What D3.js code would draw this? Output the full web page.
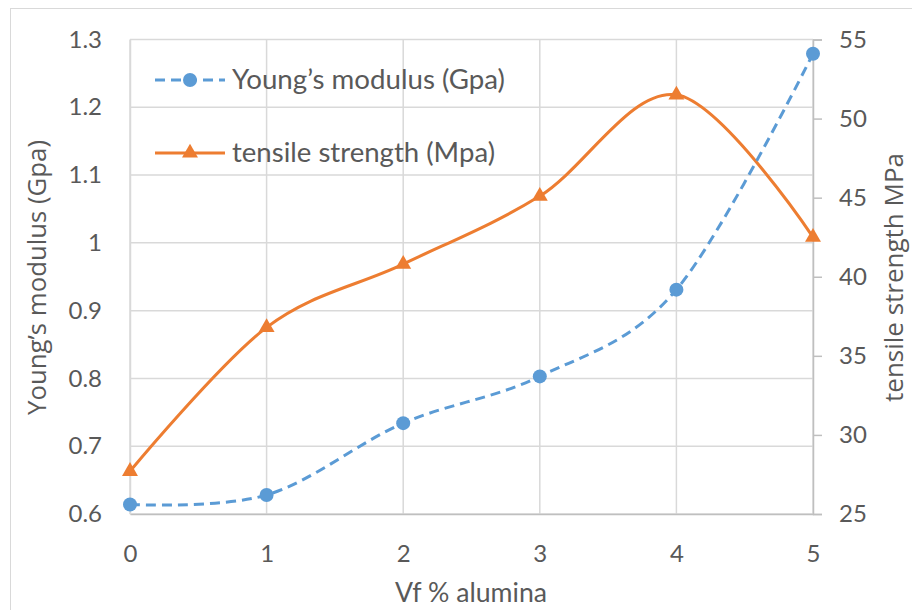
<!DOCTYPE html>
<html><head><meta charset="utf-8">
<script src="https://cdn.jsdelivr.net/npm/d3@7"></script>
<style>body{margin:0;background:#fff;}svg{display:block;}</style>
</head><body>
<svg id="c" width="912" height="610"></svg>
<script>
const categories = [0, 1, 2, 3, 4, 5];
const youngs = [0.614, 0.628, 0.734, 0.803, 0.931, 1.279];
const tensile = [27.7, 36.8, 40.8, 45.1, 51.5, 42.5];
const leftTicks = [0.6, 0.7, 0.8, 0.9, 1, 1.1, 1.2, 1.3];
const rightTicks = [25, 30, 35, 40, 45, 50, 55];
const seriesNames = ["Young\u2019s modulus (Gpa)", "tensile strength (Mpa)"];

const svg = d3.select("#c");
const M = {l:130, r:813, t:39.5, b:514};
const x = d3.scaleLinear().domain([0,5]).range([M.l, M.r]);
const yL = d3.scaleLinear().domain([0.6,1.3]).range([M.b, M.t]);
const yR = d3.scaleLinear().domain([25,55]).range([M.b, M.t]);
const txt = "#595959", grid = "#d9d9d9", axisC = "#bfbfbf";
const blue = "#5B9BD5", orange = "#ED7D31";
const tickFont = "Lato, Calibri, sans-serif";

svg.append("rect").attr("x",10.5).attr("y",8.5).attr("width",910).attr("height",610).attr("fill","none").attr("stroke","#d9d9d9");

// gridlines
svg.append("g").selectAll("line").data(leftTicks).join("line")
  .attr("x1",M.l).attr("x2",M.r).attr("y1",d=>yL(d)).attr("y2",d=>yL(d))
  .attr("stroke",grid).attr("stroke-width",1.5);
svg.append("g").selectAll("line").data(categories).join("line")
  .attr("x1",d=>x(d)).attr("x2",d=>x(d)).attr("y1",M.t).attr("y2",M.b)
  .attr("stroke",grid).attr("stroke-width",1.5);

// axes
const ax = svg.append("g").attr("transform",`translate(0,${M.b})`)
  .call(d3.axisBottom(x).tickValues(categories).tickSize(0).tickPadding(31).tickFormat(d3.format("d")));
const ayl = svg.append("g").attr("transform",`translate(${M.l},0)`)
  .call(d3.axisLeft(yL).tickValues(leftTicks).tickSize(0).tickPadding(28).tickFormat(d=>String(d)));
const ayr = svg.append("g").attr("transform",`translate(${M.r},0)`)
  .call(d3.axisRight(yR).tickValues(rightTicks).tickSize(9).tickPadding(17).tickFormat(d3.format("d")));
[ax,ayl,ayr].forEach(g=>{
  g.select(".domain").attr("stroke",axisC).attr("stroke-width",1.5);
  g.selectAll(".tick line").attr("stroke",axisC).attr("stroke-width",1.5);
  g.selectAll("text").attr("fill",txt).attr("font-family",tickFont).attr("font-size",24);
});
ayl.select(".domain").attr("stroke",grid);

// axis titles
svg.append("text").attr("transform","translate(46,277.5) rotate(-90)").attr("text-anchor","middle")
  .attr("font-family","'Open Sans', sans-serif").attr("font-size",25).attr("fill",txt)
  .attr("textLength",275).attr("lengthAdjust","spacingAndGlyphs").text("Young\u2019s modulus (Gpa)");
svg.append("text").attr("transform","translate(903,277.5) rotate(-90)").attr("text-anchor","middle")
  .attr("font-family","'Open Sans', sans-serif").attr("font-size",25).attr("fill",txt)
  .attr("textLength",249).attr("lengthAdjust","spacingAndGlyphs").text("tensile strength MPa");
svg.append("text").attr("x",471).attr("y",602).attr("text-anchor","middle")
  .attr("font-family",tickFont).attr("font-size",27).attr("fill",txt)
  .attr("textLength",152).attr("lengthAdjust","spacingAndGlyphs").text("Vf % alumina");

// lines
const curve = d3.curveCardinal.tension(0);
const lineY = d3.line().x((d,i)=>x(categories[i])).y(d=>yL(d)).curve(curve);
const lineT = d3.line().x((d,i)=>x(categories[i])).y(d=>yR(d)).curve(curve);
svg.append("path").attr("d",lineT(tensile)).attr("fill","none").attr("stroke",orange).attr("stroke-width",3);
svg.append("path").attr("d",lineY(youngs)).attr("fill","none").attr("stroke",blue).attr("stroke-width",3).attr("stroke-dasharray","10,6");

const tri = d3.symbol().type(d3.symbolTriangle).size(110);
svg.append("g").selectAll("path").data(tensile).join("path")
  .attr("transform",(d,i)=>`translate(${x(categories[i])},${yR(d)})`).attr("d",tri()).attr("fill",orange);
svg.append("g").selectAll("circle").data(youngs).join("circle")
  .attr("cx",(d,i)=>x(categories[i])).attr("cy",d=>yL(d)).attr("r",7).attr("fill",blue);

// legend
const lg = svg.append("g");
const legY = [80, 153];
const legLen = [273, 263];
lg.append("line").attr("x1",155).attr("x2",225).attr("y1",legY[0]).attr("y2",legY[0]).attr("stroke",blue).attr("stroke-width",3).attr("stroke-dasharray","10,6");
lg.append("circle").attr("cx",190).attr("cy",legY[0]).attr("r",7).attr("fill",blue);
lg.append("line").attr("x1",155).attr("x2",225).attr("y1",legY[1]).attr("y2",legY[1]).attr("stroke",orange).attr("stroke-width",3);
lg.append("path").attr("transform",`translate(190,${legY[1]})`).attr("d",tri()).attr("fill",orange);
lg.selectAll("text").data(seriesNames).join("text").attr("x",232).attr("y",(d,i)=>legY[i]).attr("dy","0.33em")
  .attr("font-family",tickFont).attr("font-size",26).attr("fill",txt)
  .attr("textLength",(d,i)=>legLen[i]).attr("lengthAdjust","spacingAndGlyphs").text(d=>d);
</script>
</body></html>
